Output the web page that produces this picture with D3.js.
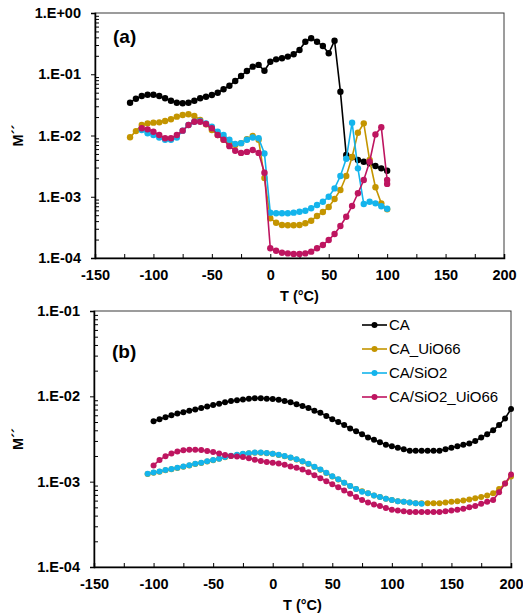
<!DOCTYPE html>
<html>
<head>
<meta charset="utf-8">
<script src="https://cdn.jsdelivr.net/npm/d3@7"></script>
<style>
    body { margin: 0; background: #fff; }
    text { font-family: Arial, "Liberation Sans", sans-serif; }
</style>
</head>
<body>
<script>

// ---- data panel (a) ----
var tA_CA = [-120, -115, -110, -105, -100, -95, -90, -85, -80, -75, -70, -65, -60, -55, -50, -45, -40, -35, -30, -25, -20, -15, -10, -5, 0,
    5, 10, 15, 20, 25, 30, 35, 40, 45, 50, 55, 60, 65, 70, 75, 80, 85, 90, 95, 100];
var mA_CA = [0.0343, 0.0399, 0.0441, 0.0464, 0.0464, 0.0441, 0.0405, 0.0370, 0.0343, 0.0336, 0.0343, 0.0370, 0.0405, 0.0430, 0.0458,
    0.0500, 0.0568, 0.0650, 0.0776, 0.0936, 0.113, 0.133, 0.142, 0.114, 0.160,
    0.175, 0.182, 0.194, 0.212, 0.249, 0.340, 0.386, 0.340, 0.289, 0.220, 0.353, 0.0519, 0.00481, 0.00441, 0.00398, 0.00373,
    0.00352, 0.00318, 0.00291, 0.00266];

var tA_UiO = tA_CA;
var mA_UiO = [0.00935, 0.0118, 0.0148, 0.0158, 0.0162, 0.0164, 0.0172, 0.0184, 0.0203, 0.0216, 0.0222, 0.0208, 0.0179, 0.0152, 0.0123,
    0.0102, 0.0085, 0.0073, 0.0070, 0.0075, 0.0087, 0.0098, 0.0085, 0.00202, 0.000445,
    0.000377, 0.000346, 0.000343, 0.000343, 0.000346, 0.000369, 0.000406, 0.000485, 0.000564, 0.00068, 0.000919, 0.00129,
    0.00218, 0.00446, 0.0111, 0.0158, 0.00398, 0.00143, 0.00078, 0.000624];

var tA_SiO2 = [-110, -105, -100, -95, -90, -85, -80, -75, -70, -65, -60, -55, -50, -45, -40, -35, -30, -25, -20, -15, -10, -5, 0,
    5, 10, 15, 20, 25, 30, 35, 40, 45, 50, 55, 60, 65, 70, 75, 80, 85, 90, 95, 100];
var mA_SiO2 = [0.0123, 0.0109, 0.0102, 0.0093, 0.0085, 0.0085, 0.0093, 0.0120, 0.0148, 0.0168, 0.0172, 0.0158, 0.0139, 0.0115,
    0.0102, 0.0085, 0.0073, 0.0075, 0.0085, 0.0093, 0.0090, 0.0051, 0.00055,
    0.000537, 0.000537, 0.000537, 0.00055, 0.00057, 0.00059, 0.000648, 0.000733, 0.00083, 0.00100, 0.00137, 0.00218, 0.00417,
    0.0162, 0.00291, 0.00076, 0.00083, 0.00078, 0.000698, 0.000638];

var tA_SiO2UiO = [-110, -105, -100, -95, -90, -85, -80, -75, -70, -65, -60, -55, -50, -45, -40, -35, -30, -25, -20, -15, -10, -5, 0,
    5, 10, 15, 20, 25, 30, 35, 40, 45, 50, 55, 60, 65, 70, 75, 80, 85, 90, 95, 100, 100];
var mA_SiO2UiO = [0.0131, 0.0126, 0.0115, 0.0102, 0.0090, 0.0090, 0.0102, 0.0120, 0.0148, 0.0168, 0.0168, 0.0154, 0.0131, 0.0102,
    0.0085, 0.0067, 0.00565, 0.0052, 0.0054, 0.0058, 0.0052, 0.00247, 0.000144,
    0.000131, 0.000122, 0.000119, 0.000116, 0.000116, 0.000119, 0.000127, 0.000144, 0.000163, 0.000197, 0.000247, 0.000333,
    0.000472, 0.000706, 0.00114, 0.00188, 0.00373, 0.0104, 0.0136, 0.00188, 0.00162];

// ---- data panel (b) ----
var tB_CA = [-100, -95, -90, -85, -80, -75, -70, -65, -60, -55, -50, -45, -40, -35, -30, -25, -20, -15, -10, -5, 0,
    5, 10, 15, 20, 25, 30, 35, 40, 45, 50, 55, 60, 65, 70, 75, 80, 85, 90, 95, 100,
    105, 110, 115, 120, 125, 130, 135, 140, 145, 150, 155, 160, 165, 170, 175, 180, 185, 190, 195, 200];
var mB_CA = [0.0051, 0.0054, 0.0057, 0.0060, 0.0063, 0.0065, 0.0068, 0.0070, 0.0073, 0.0076, 0.0079, 0.0082, 0.0085, 0.0088, 0.0090,
    0.0092, 0.0094, 0.0095, 0.0095, 0.0094, 0.0093,
    0.0091, 0.0088, 0.0085, 0.0081, 0.0077, 0.0073, 0.0068, 0.0064, 0.0059, 0.0054, 0.0050, 0.0046, 0.0042, 0.0039, 0.0036,
    0.0033, 0.0031, 0.0029, 0.0027, 0.0026,
    0.0025, 0.0024, 0.0023, 0.0023, 0.0023, 0.0023, 0.0023, 0.0023, 0.0024, 0.0025, 0.0026, 0.0027, 0.0028, 0.0030, 0.0033,
    0.0036, 0.0040, 0.0046, 0.0055, 0.0071];

var tB_UiO = [-105, -100, -95, -90, -85, -80, -75, -70, -65, -60, -55, -50, -45, -40, -35, -30, -25, -20, -15, -10, -5, 0,
    5, 10, 15, 20, 25, 30, 35, 40, 45, 50, 55, 60, 65, 70, 75, 80, 85, 90, 95, 100,
    105, 110, 115, 120, 125, 130, 135, 140, 145, 150, 155, 160, 165, 170, 175, 180, 185, 190, 195, 200];
var mB_UiO = [0.00123, 0.00127, 0.00131, 0.00136, 0.00140, 0.00145, 0.00150, 0.00155, 0.00161, 0.00166, 0.00172, 0.00178, 0.00185,
    0.00193, 0.00200, 0.00206, 0.00211, 0.00215, 0.00218, 0.00218, 0.00216, 0.00212,
    0.00206, 0.00199, 0.00191, 0.00182, 0.00172, 0.00161, 0.00149, 0.00138, 0.00126, 0.00115, 0.00106, 0.00097, 0.00089,
    0.00082, 0.00077, 0.00073, 0.00069, 0.00066, 0.00063, 0.00061,
    0.00059, 0.00058, 0.00057, 0.00056, 0.00056, 0.00056, 0.00056, 0.00056, 0.00057, 0.00058, 0.00059, 0.00060, 0.00062,
    0.00064, 0.00066, 0.00069, 0.00073, 0.00082, 0.00095, 0.00115];

var tB_SiO2 = [-105, -100, -95, -90, -85, -80, -75, -70, -65, -60, -55, -50, -45, -40, -35, -30, -25, -20, -15, -10, -5, 0,
    5, 10, 15, 20, 25, 30, 35, 40, 45, 50, 55, 60, 65, 70, 75, 80, 85, 90, 95, 100, 105, 110, 115, 120, 125];
var mB_SiO2 = [0.00124, 0.00128, 0.00132, 0.00137, 0.00141, 0.00146, 0.00151, 0.00156, 0.00162, 0.00167, 0.00173, 0.00179, 0.00186,
    0.00194, 0.00201, 0.00207, 0.00212, 0.00216, 0.00219, 0.00219, 0.00217, 0.00213,
    0.00207, 0.00200, 0.00192, 0.00183, 0.00173, 0.00162, 0.00150, 0.00139, 0.00127, 0.00116, 0.00107, 0.00097, 0.00089,
    0.00082, 0.00076, 0.00073, 0.00069, 0.00066, 0.00063, 0.00061, 0.00059, 0.00058, 0.00057, 0.00056, 0.00055];

var tB_SiO2UiO = tB_CA;
var mB_SiO2UiO = [0.00155, 0.00180, 0.00198, 0.00214, 0.00226, 0.00233, 0.00237, 0.00237, 0.00235, 0.00229, 0.00222, 0.00214,
    0.00206, 0.00200, 0.00197, 0.00194, 0.00188, 0.00181, 0.00175, 0.00170, 0.00167,
    0.00163, 0.00158, 0.00151, 0.00146, 0.00139, 0.00129, 0.00119, 0.00110, 0.00101, 0.00093, 0.00086, 0.00079, 0.00072,
    0.00066, 0.00061, 0.00057, 0.00054, 0.00052, 0.00049, 0.00047,
    0.00046, 0.00045, 0.00044, 0.00044, 0.00044, 0.00044, 0.00044, 0.00044, 0.00045, 0.00046, 0.00047, 0.00048, 0.00050,
    0.00052, 0.00055, 0.00058, 0.00061, 0.00075, 0.00095, 0.00121];

var seriesNames = ["CA", "CA_UiO66", "CA/SiO2", "CA/SiO2_UiO66"];
var seriesColors = ["#000000", "#C49500", "#14B4EC", "#BE1560"];

var xTicks = [-150, -125, -100, -75, -50, -25, 0, 25, 50, 75, 100, 125, 150, 175, 200];
var yTicksA = [1e-4, 1e-3, 1e-2, 1e-1, 1];
var yTicksB = [1e-4, 1e-3, 1e-2, 1e-1];

var W = 523, H = 616;

var svg = d3.select("body").append("svg")
    .attr("width", W)
    .attr("height", H);

svg.append("rect").attr("width", W).attr("height", H).attr("fill", "#fff");

function fmtE(v) {
    var e = Math.round(Math.log10(v));
    return "1.E" + (e >= 0 ? "+" : "-") + ("0" + Math.abs(e)).slice(-2);
}

function drawPanel(p) {
    var x = d3.scaleLinear().domain([-150, 200]).range([p.left, p.right]);
    var y = d3.scaleLog().domain([p.yTicks[0], p.yTicks[p.yTicks.length - 1]]).range([p.bottom, p.top]);
    var g = svg.append("g");

    // plot area frame
    g.append("rect")
        .attr("x", p.left).attr("y", p.top)
        .attr("width", p.right - p.left).attr("height", p.bottom - p.top)
        .attr("fill", "none").attr("stroke", "#3a3a3a").attr("stroke-width", 1);

    // x axis, ticks inside
    var xa = g.append("g").attr("transform", "translate(0," + p.bottom + ")")
        .call(d3.axisBottom(x).tickValues(xTicks).tickSize(-4).tickPadding(12)
            .tickFormat(function (d) { return d % 50 === 0 ? d : ""; }));
    xa.select(".domain").attr("stroke", "#000").attr("stroke-width", 1.5);
    xa.selectAll("text").attr("font-size", 14.5).attr("font-weight", "bold").attr("fill", "#000")
        .attr("font-family", "Arial, 'Liberation Sans', sans-serif");

    // y axis majors (outside) and minors (inside)
    var ya = g.append("g").attr("transform", "translate(" + p.left + ",0)")
        .call(d3.axisLeft(y).tickValues(p.yTicks).tickSize(4).tickPadding(10).tickFormat(fmtE));
    ya.select(".domain").attr("stroke", "#000").attr("stroke-width", 1.5);
    ya.selectAll("text").attr("font-size", 14.5).attr("font-weight", "bold").attr("fill", "#000")
        .attr("font-family", "Arial, 'Liberation Sans', sans-serif");

    var minors = y.ticks().filter(function (d) { return p.yTicks.indexOf(d) < 0; });
    var ym = g.append("g").attr("transform", "translate(" + p.left + ",0)")
        .call(d3.axisLeft(y).tickValues(minors).tickSize(-4).tickFormat(""));
    ym.select(".domain").remove();

    // titles
    g.append("text")
        .attr("x", (p.left + p.right) / 2).attr("y", p.bottom + 43)
        .attr("text-anchor", "middle").attr("font-size", 14.5).attr("font-weight", "bold")
        .text("T (°C)");
    g.append("text")
        .attr("transform", "translate(23," + (p.top + p.bottom) / 2 + ") rotate(-90)")
        .attr("text-anchor", "middle").attr("font-size", 14.5).attr("font-weight", "bold")
        .text("M´´");
    g.append("text")
        .attr("x", p.left + 18).attr("y", p.labelY)
        .attr("font-size", 19).attr("font-weight", "bold")
        .text(p.label);

    var line = d3.line()
        .x(function (d) { return x(d[0]); })
        .y(function (d) { return y(d[1]); });

    p.series.forEach(function (s, i) {
        var pts = s.t.map(function (t, k) { return [t, s.v[k]]; });
        var sg = g.append("g");
        sg.append("path").datum(pts)
            .attr("d", line).attr("fill", "none")
            .attr("stroke", seriesColors[i]).attr("stroke-width", 1.6);
        sg.selectAll("circle").data(pts).enter().append("circle")
            .attr("cx", function (d) { return x(d[0]); })
            .attr("cy", function (d) { return y(d[1]); })
            .attr("r", p.r)
            .attr("fill", seriesColors[i]);
    });
}

drawPanel({
    left: 95, right: 504, top: 13, bottom: 258,
    yTicks: yTicksA, label: "(a)", labelY: 43, r: 3.2,
    series: [
        {t: tA_CA, v: mA_CA},
        {t: tA_UiO, v: mA_UiO},
        {t: tA_SiO2, v: mA_SiO2},
        {t: tA_SiO2UiO, v: mA_SiO2UiO}
    ]
});

drawPanel({
    left: 94, right: 511, top: 311, bottom: 567,
    yTicks: yTicksB, label: "(b)", labelY: 358, r: 3,
    series: [
        {t: tB_CA, v: mB_CA},
        {t: tB_UiO, v: mB_UiO},
        {t: tB_SiO2, v: mB_SiO2},
        {t: tB_SiO2UiO, v: mB_SiO2UiO}
    ]
});

// legend (panel b)
var leg = svg.append("g").attr("transform", "translate(362,325)");
seriesNames.forEach(function (name, i) {
    var row = leg.append("g").attr("transform", "translate(0," + (i * 24) + ")");
    row.append("line").attr("x1", 0).attr("x2", 25).attr("y1", 0).attr("y2", 0)
        .attr("stroke", seriesColors[i]).attr("stroke-width", 1.6);
    row.append("circle").attr("cx", 12.5).attr("cy", 0).attr("r", 3).attr("fill", seriesColors[i]);
    row.append("text").attr("x", 27).attr("y", 0).attr("dy", "0.35em")
        .attr("font-size", 15).text(name);
});

</script>
</body>
</html>
